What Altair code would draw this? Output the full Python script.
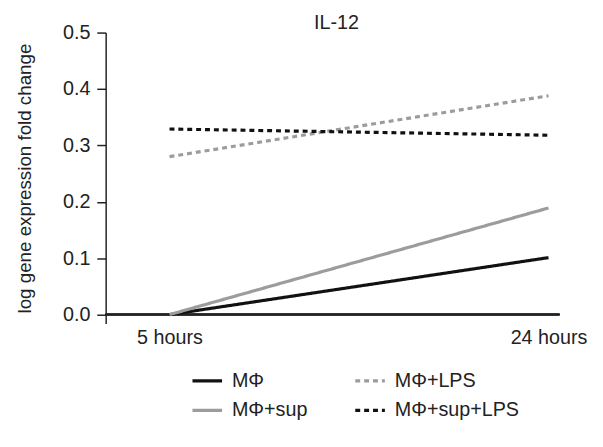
import altair as alt
import pandas as pd

times = [5, 24]
series_names = ["MΦ", "MΦ+sup", "MΦ+LPS", "MΦ+sup+LPS"]
values = {
    "MΦ": [0.0, 0.101],
    "MΦ+sup": [0.0, 0.189],
    "MΦ+LPS": [0.280, 0.388],
    "MΦ+sup+LPS": [0.329, 0.318],
}
colors = ["#111111", "#9c9c9c", "#9c9c9c", "#111111"]
dashes = [[1, 0], [1, 0], [5, 4], [5, 4]]
y_ticks = [0.0, 0.1, 0.2, 0.3, 0.4, 0.5]

rows = []
for s in series_names:
    for t, v in zip(times, values[s]):
        rows.append({"series": s, "hours": t, "value": v})
df = pd.DataFrame(rows)

FONT = "Liberation Sans"
W, H = 460, 295

lines = alt.Chart(df).mark_line(strokeWidth=3.2).encode(
    x=alt.X("hours:Q", scale=alt.Scale(domain=[1.8, 24.55], nice=False, zero=False),
            axis=alt.Axis(values=times, labelExpr="datum.value + ' hours'", domain=False,
                          ticks=False, grid=False, title=None, labelFontSize=20,
                          labelFont=FONT, labelColor="#222", labelPadding=4)),
    y=alt.Y("value:Q", scale=alt.Scale(domain=[-0.016, 0.5], nice=False, zero=False),
            axis=alt.Axis(values=y_ticks, format=".1f", grid=False,
                          title="log gene expression fold change",
                          titleFontSize=19, titleFont=FONT, titleFontWeight="normal",
                          titleColor="#222", labelFontSize=20, labelFont=FONT,
                          labelColor="#222", tickSize=9, tickColor="#222",
                          domainColor="#222", domainWidth=1.5, tickWidth=1.5,
                          labelPadding=7, titlePadding=28)),
    color=alt.Color("series:N", sort=series_names,
                    scale=alt.Scale(domain=series_names, range=colors),
                    legend=alt.Legend(title=None, orient="none", legendX=86, legendY=336,
                                      columns=2, symbolType="stroke", symbolSize=900,
                                      symbolStrokeWidth=3.2, labelFontSize=20, labelFont=FONT,
                                      labelColor="#222", columnPadding=41, rowPadding=3,
                                      labelOffset=8)),
    strokeDash=alt.StrokeDash("series:N", sort=series_names,
                              scale=alt.Scale(domain=series_names, range=dashes),
                              legend=None),
)

axis_rule = alt.Chart(df).mark_rule(color="#222", strokeWidth=1.5).encode(
    x=alt.value(0), x2=alt.value(W), y=alt.datum(0)
)

chart = alt.layer(axis_rule, lines).properties(
    width=W, height=H,
    title=alt.Title("IL-12", fontSize=20, font=FONT, fontWeight="normal", color="#222",
                    anchor="middle", offset=4, dy=14, dx=4),
    autosize=alt.AutoSizeParams(type="none"),
    padding={"left": 99, "top": 22, "right": 36, "bottom": 110},
).configure_view(stroke=None)

chart.save("out.html", embed_options={"renderer": "svg", "actions": False})
